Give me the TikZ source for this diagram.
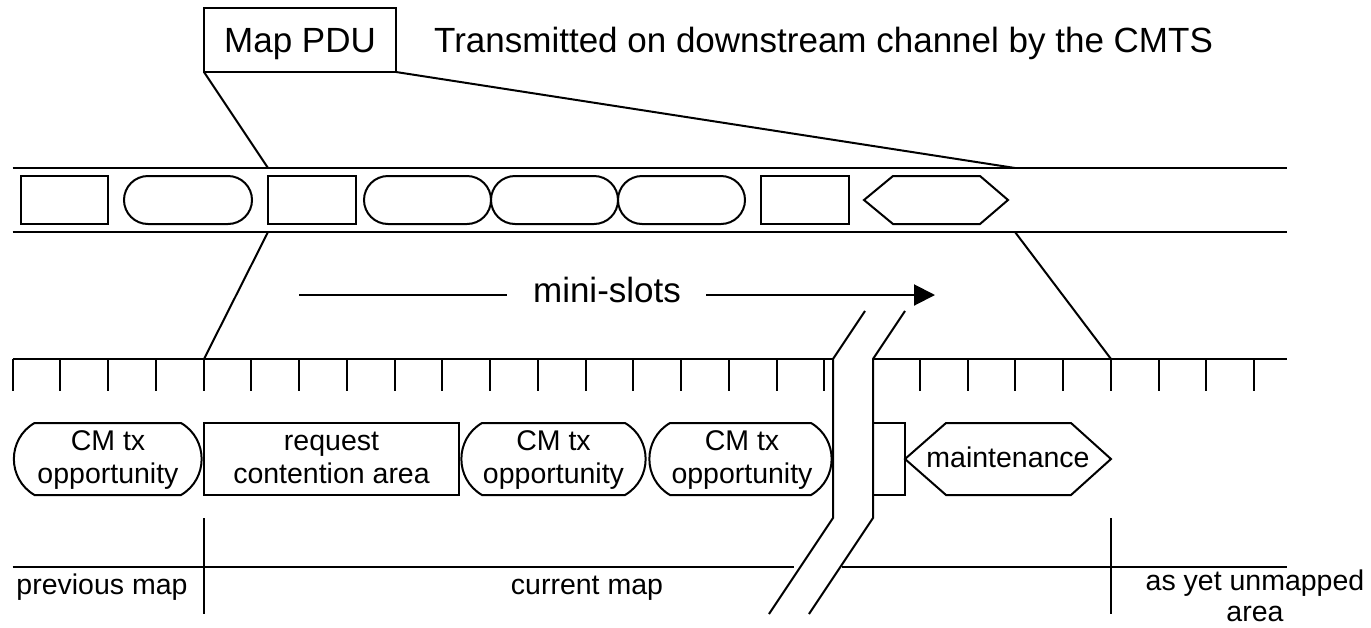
\documentclass[tikz,border=0pt]{standalone}
\usepackage{fontspec}
\setmainfont{Liberation Sans}
\usetikzlibrary{arrows.meta}
\newcommand\stadtop[2]{%
  \draw[ln] (#1+24,176) -- (#2-24,176)
    .. controls (#2-10.75,176) and (#2,186.75) .. (#2,200)
    .. controls (#2,213.25) and (#2-10.75,224) .. (#2-24,224)
    -- (#1+24,224)
    .. controls (#1+10.75,224) and (#1,213.25) .. (#1,200)
    .. controls (#1,186.75) and (#1+10.75,176) .. (#1+24,176) -- cycle;}
\newcommand\stadlow[2]{%
  \draw[ln] (#1+22,423) -- (#2-22,423)
    .. controls (#2+5.5,439) and (#2+5.5,479) .. (#2-22,495)
    -- (#1+22,495)
    .. controls (#1-5.5,479) and (#1-5.5,439) .. (#1+22,423) -- cycle;}
\begin{document}
\begin{tikzpicture}[x=1pt,y=-1pt,
  ln/.style={line width=2pt},
  big/.style={font=\fontsize{35}{40}\selectfont, inner sep=0pt},
  sm/.style={font=\fontsize{28.5}{33}\selectfont, inner sep=0pt},
]
\useasboundingbox (0,0) rectangle (1371,627);

% ---- Map PDU header ----
\node[draw, ln, minimum width=192pt, minimum height=64pt, inner sep=0pt, outer sep=0pt] (pdu) at (300,40) {};
\node[big, anchor=base] (pdutxt) at (300,52) {Map PDU};
\node[big, anchor=base west] (tx) at (434,52) {Transmitted on downstream channel by the CMTS};

% ---- downstream channel ----
\coordinate (chl1) at (12.5,168); \coordinate (chr1) at (1287,168);
\coordinate (chl2) at (12.5,232); \coordinate (chr2) at (1287,232);
\draw[ln] (chl1) -- (chr1);
\draw[ln] (chl2) -- (chr2);

\draw[ln] (21,176) rectangle (108,224);
\stadtop{124}{252}
\draw[ln] (268,176) rectangle (356,224);
\stadtop{364}{491}
\stadtop{491}{618}
\stadtop{618}{745}
\draw[ln] (761,176) rectangle (849,224);
\draw[ln] (864,200) -- (893,176) -- (980,176) -- (1008,200) -- (980,224) -- (893,224) -- cycle;

% ---- expansion lines ----
\coordinate (c1) at (268,168); \coordinate (c2) at (1015,168);
\coordinate (c3) at (268,232); \coordinate (c4) at (1015,232);
\coordinate (m1) at (204,359); \coordinate (m2) at (1111,359);
\draw[ln] (pdu.south west) -- (c1);
\draw[ln] (pdu.south east) -- (c2);
\draw[ln] (c3) -- (m1);
\draw[ln] (c4) -- (m2);

% ---- mini-slots arrow ----
\node[big, anchor=base] (ms) at (607,302) {mini-slots};
\coordinate (a1) at (299,295); \coordinate (a2) at (507,295);
\coordinate (a3) at (706,295); \coordinate (a4) at (935,295);
\draw[ln] (a1) -- (a2);
\draw[ln, -{Triangle[length=21pt,width=21pt]}] (a3) -- (a4);

% ---- mini-slot ruler ----
\coordinate (tl) at (12.5,359); \coordinate (tr) at (1287,359);
\draw[ln] (tl) -- (tr);
\foreach \k in {0,...,17,19,20,...,26}
  \draw[ln] ({12.5+47.75*\k},359) -- ++(0,32);

% ---- allocation row ----
\stadlow{12.5}{203}
\node[sm, anchor=base] (a1l1) at (108,450) {CM tx};
\node[sm, anchor=base] (a1l2) at (108,483) {opportunity};
\draw[ln] (204,423) rectangle (459,495);
\node[sm, anchor=base] (r1l1) at (331.5,450) {request};
\node[sm, anchor=base] (r1l2) at (331.5,483) {contention area};
\stadlow{460}{647}
\node[sm, anchor=base] (b1l1) at (553.5,450) {CM tx};
\node[sm, anchor=base] (b1l2) at (553.5,483) {opportunity};
\stadlow{648}{833}
\node[sm, anchor=base] (c1l1) at (742,450) {CM tx};
\node[sm, anchor=base] (c1l2) at (742,483) {opportunity};
\draw[ln] (873,423) rectangle (905,495);
\draw[ln] (905,459) -- (946,423) -- (1071,423) -- (1111,459) -- (1071,495) -- (946,495) -- cycle;
\node[sm, anchor=base] (mt) at (1008,467) {maintenance};

% ---- map timeline ----
\coordinate (bl) at (12.5,567); \coordinate (bg1) at (794,567);
\coordinate (bg2) at (842,567); \coordinate (br) at (1287,567);
\draw[ln] (bl) -- (bg1);
\draw[ln] (bg2) -- (br);
\coordinate (v1t) at (204,518); \coordinate (v1b) at (204,614);
\coordinate (v2t) at (1111,518); \coordinate (v2b) at (1111,614);
\draw[ln] (v1t) -- (v1b);
\draw[ln] (v2t) -- (v2b);
\node[sm, anchor=base] (prev) at (102,594) {previous map};
\node[sm, anchor=base] (cur) at (587,594) {current map};
\node[sm, anchor=base] (un1) at (1255,590) {as yet unmapped};
\node[sm, anchor=base] (un2) at (1255,621) {area};

% ---- break ----
\fill[white] (865,311) -- (833,359) -- (833,518) -- (769,614) -- (809,614) -- (873,518) -- (873,359) -- (905,311) -- cycle;
\draw[ln] (865,311) -- (833,359) -- (833,518) -- (769,614);
\draw[ln] (905,311) -- (873,359) -- (873,518) -- (809,614);
\end{tikzpicture}
\end{document}
